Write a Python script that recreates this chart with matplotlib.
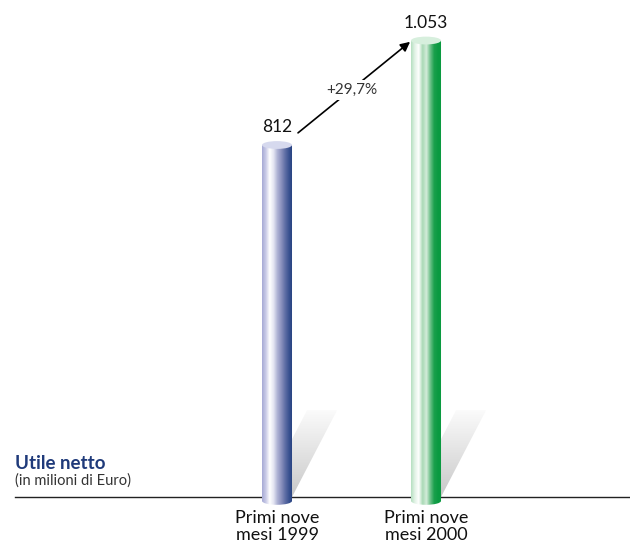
import numpy as np
import matplotlib.pyplot as plt
from matplotlib.patches import Ellipse, Polygon, Rectangle
from matplotlib.path import Path
from matplotlib.colors import LinearSegmentedColormap

plt.rcParams['font.family'] = ['Lato', 'DejaVu Sans']

# data
categories = ['Primi nove\nmesi 1999', 'Primi nove\nmesi 2000']
values = [812, 1053]
value_labels = ['812', '1.053']
change_label = '+29,7%'

blue_stops = ['#a6aad5', '#c9cbe7', '#ffffff', '#e4e5f2', '#aeb2d4',
              '#8a91bd', '#5f6ea5', '#3a5290', '#233f7e']
green_stops = ['#b5dfc0', '#e2f3e6', '#ffffff', '#a9d9b5', '#d4ecda',
               '#6cc088', '#1aa04c', '#0b9a42', '#0a9a40']
bar_cmaps = [LinearSegmentedColormap.from_list('b', blue_stops),
             LinearSegmentedColormap.from_list('g', green_stops)]
top_colors = ['#d6d9ee', '#d7efdd']

fig = plt.figure(figsize=(6.3, 5.44), dpi=100)
ax = fig.add_axes([0, 0, 1, 1])
ax.axis('off')

xlim = (-1.859, 2.369)
ylim = (-108.4, 1146.5)
half_w = 0.1007
ell_h = 18.0

x = np.arange(len(values))
grad = np.linspace(0, 1, 256).reshape(1, -1)
shade = np.linspace(0, 1, 256).reshape(-1, 1)
shadow_cmap = LinearSegmentedColormap.from_list('s', ['#c8c8c8', '#e2e2e2', '#fbfbfb'])

for i, v in enumerate(values):
    xc = x[i]
    # shadow going up-right
    dx, dy = 0.302, 200
    poly = Polygon([(xc - half_w, 0), (xc + half_w, 0),
                    (xc + half_w + dx, dy), (xc - half_w + dx, dy)],
                   closed=True, fc='none', ec='none')
    ax.add_patch(poly)
    im = ax.imshow(shade, cmap=shadow_cmap, origin='lower', aspect='auto',
                   extent=[xc - half_w, xc + half_w + dx, 0, dy], zorder=1)
    im.set_clip_path(poly)

    # cylinder body (rectangle + rounded bottom)
    body = Rectangle((xc - half_w, -ell_h / 2), 2 * half_w, v + ell_h / 2,
                     fc='none', ec='none')
    bottom = Ellipse((xc, -ell_h / 2), 2 * half_w, ell_h, fc='none', ec='none')
    body_verts = body.get_path().transformed(body.get_patch_transform()).vertices
    bot_path = bottom.get_path().transformed(bottom.get_patch_transform())
    verts = np.vstack([body_verts, bot_path.vertices])
    codes = np.concatenate([[Path.MOVETO] + [Path.LINETO] * (len(body_verts) - 2) + [Path.CLOSEPOLY],
                            bot_path.codes])
    im = ax.imshow(grad, cmap=bar_cmaps[i], aspect='auto',
                   extent=[xc - half_w, xc + half_w, -ell_h, v], zorder=3)
    im.set_clip_path(Path(verts, codes), ax.transData)

    ax.add_patch(Ellipse((xc, v), 2 * half_w, ell_h, fc=top_colors[i],
                         ec='none', zorder=4))
    ax.text(xc, v + 22, value_labels[i], ha='center', va='bottom',
            fontsize=12.5, color='#111111', zorder=5)
    ax.text(xc, -30, categories[i], ha='center', va='top', fontsize=13,
            color='#111111', linespacing=1.05)

ax.axhline(0, xmin=15 / 630, xmax=1, color='#222222', lw=1.0, zorder=2)

# growth arrow
ax.annotate('', xy=(x[1] - 0.107, values[1] - 3), xytext=(x[0] + 0.141, values[0] + 28),
            arrowprops=dict(arrowstyle='-|>', color='black', lw=1.2,
                            mutation_scale=14, shrinkA=0, shrinkB=0), zorder=5)
ax.text(0.503, 939, change_label, ha='center', va='center', fontsize=11,
        color='#333333', zorder=6,
        bbox=dict(fc='white', ec='none', pad=2))

ax.text(-1.758, 78, 'Utile netto', ha='left', va='center', fontsize=13.5,
        fontweight='bold', color='#1f3a7a')
ax.text(-1.758, 38, '(in milioni di Euro)', ha='left', va='center', fontsize=10.5,
        color='#333333')

ax.set_xlim(*xlim)
ax.set_ylim(*ylim)

fig.savefig('out.png', dpi=100)
